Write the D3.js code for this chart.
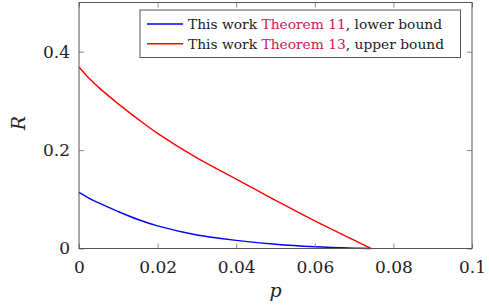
<!DOCTYPE html>
<html>
<head>
<meta charset="utf-8">
<script src="https://cdn.jsdelivr.net/npm/d3@7"></script>
<style>
  body { margin: 0; background: #fff; }
</style>
</head>
<body>
<svg id="chart" width="489" height="308"></svg>
<script>
// ------------------
// Data
// ------------------
const pValues = [0, 0.0025, 0.005, 0.01, 0.015, 0.02, 0.03, 0.04, 0.05, 0.06, 0.07, 0.0743]
const lowerBound = [0.114, 0.1025, 0.0925, 0.075, 0.059, 0.046, 0.0275, 0.0165, 0.0085, 0.0035, 0.0007, 0]
const upperBound = [0.369, 0.3465, 0.3275, 0.294, 0.263, 0.234, 0.184, 0.141, 0.098, 0.056, 0.0168, 0]

const xTicks = [0, 0.02, 0.04, 0.06, 0.08, 0.1]
const yTicks = [0, 0.2, 0.4]

const seriesNames = [
  { pre: 'This work ', ref: 'Theorem 11', post: ', lower bound', color: '#0000ff', values: lowerBound },
  { pre: 'This work ', ref: 'Theorem 13', post: ', upper bound', color: '#ff0000', values: upperBound }
]

const svg = d3.select('#chart')
const margin = { left: 79, right: 17, top: 2.5, bottom: 59.5 }
const width = 489, height = 308

const x = d3.scaleLinear().domain([0, 0.1]).range([margin.left, width - margin.right])
const y = d3.scaleLinear().domain([0, 0.5]).range([height - margin.bottom, margin.top])

const frame = '#555'
const serif = 'DejaVu Serif'

// ------------------
// Lines
// ------------------
const line = d3.line()
  .x((d, i) => x(pValues[i]))
  .y(d => y(d))
  .curve(d3.curveCatmullRom.alpha(0.5))

seriesNames.forEach(s => {
  svg.append('path')
    .attr('d', line(s.values))
    .attr('fill', 'none')
    .attr('stroke', s.color)
    .attr('stroke-width', 1.4)
})

// ------------------
// Axes (ticks inside, mirrored)
// ------------------
const tickLen = 5
const fmt = d => d === 0 ? '0' : d3.format('')(d)

svg.append('g')
  .attr('transform', `translate(0,${y(0)})`)
  .call(d3.axisBottom(x).tickValues(xTicks).tickSize(-tickLen).tickPadding(12).tickFormat(fmt))
  .call(g => g.select('.domain').remove())
svg.append('g')
  .attr('transform', `translate(0,${y(0.5)})`)
  .call(d3.axisTop(x).tickValues(xTicks).tickSize(-tickLen).tickFormat(''))
  .call(g => g.select('.domain').remove())
svg.append('g')
  .attr('transform', `translate(${x(0)},0)`)
  .call(d3.axisLeft(y).tickValues(yTicks).tickSize(-tickLen).tickPadding(9).tickFormat(fmt))
  .call(g => g.select('.domain').remove())
svg.append('g')
  .attr('transform', `translate(${x(0.1)},0)`)
  .call(d3.axisRight(y).tickValues(yTicks).tickSize(-tickLen).tickFormat(''))
  .call(g => g.select('.domain').remove())

svg.selectAll('.tick line').attr('stroke', '#888')
svg.selectAll('.tick text')
  .attr('font-family', serif)
  .attr('font-size', 17)
  .attr('fill', '#222')

svg.append('rect')
  .attr('x', x(0)).attr('y', y(0.5))
  .attr('width', x(0.1) - x(0)).attr('height', y(0) - y(0.5))
  .attr('fill', 'none').attr('stroke', frame).attr('stroke-width', 1)

// axis labels
svg.append('text')
  .attr('x', (x(0) + x(0.1)) / 2)
  .attr('y', 297)
  .attr('text-anchor', 'middle')
  .attr('font-family', serif)
  .attr('font-size', 19)
  .attr('font-style', 'italic')
  .attr('fill', '#222')
  .text('p')

svg.append('text')
  .attr('transform', `translate(25,123) rotate(-90)`)
  .attr('text-anchor', 'middle')
  .attr('font-family', serif)
  .attr('font-size', 19)
  .attr('font-style', 'italic')
  .attr('fill', '#222')
  .text('R')

// ------------------
// Legend
// ------------------
const legend = svg.append('g')
legend.append('rect')
  .attr('x', 140).attr('y', 10)
  .attr('width', 320.5).attr('height', 47.5)
  .attr('fill', '#fff').attr('stroke', frame).attr('stroke-width', 1)

seriesNames.forEach((s, i) => {
  const ly = 24 + i * 19.7
  legend.append('line')
    .attr('x1', 147).attr('x2', 183)
    .attr('y1', ly).attr('y2', ly)
    .attr('stroke', s.color).attr('stroke-width', 1.4)
  const t = legend.append('text')
    .attr('x', 188).attr('y', ly + 5)
    .attr('font-family', serif)
    .attr('font-size', 13.8)
    .attr('fill', '#222')
  t.append('tspan').text(s.pre)
  t.append('tspan').attr('fill', '#d0145a').text(s.ref)
  t.append('tspan').text(s.post)
})
</script>
</body>
</html>
